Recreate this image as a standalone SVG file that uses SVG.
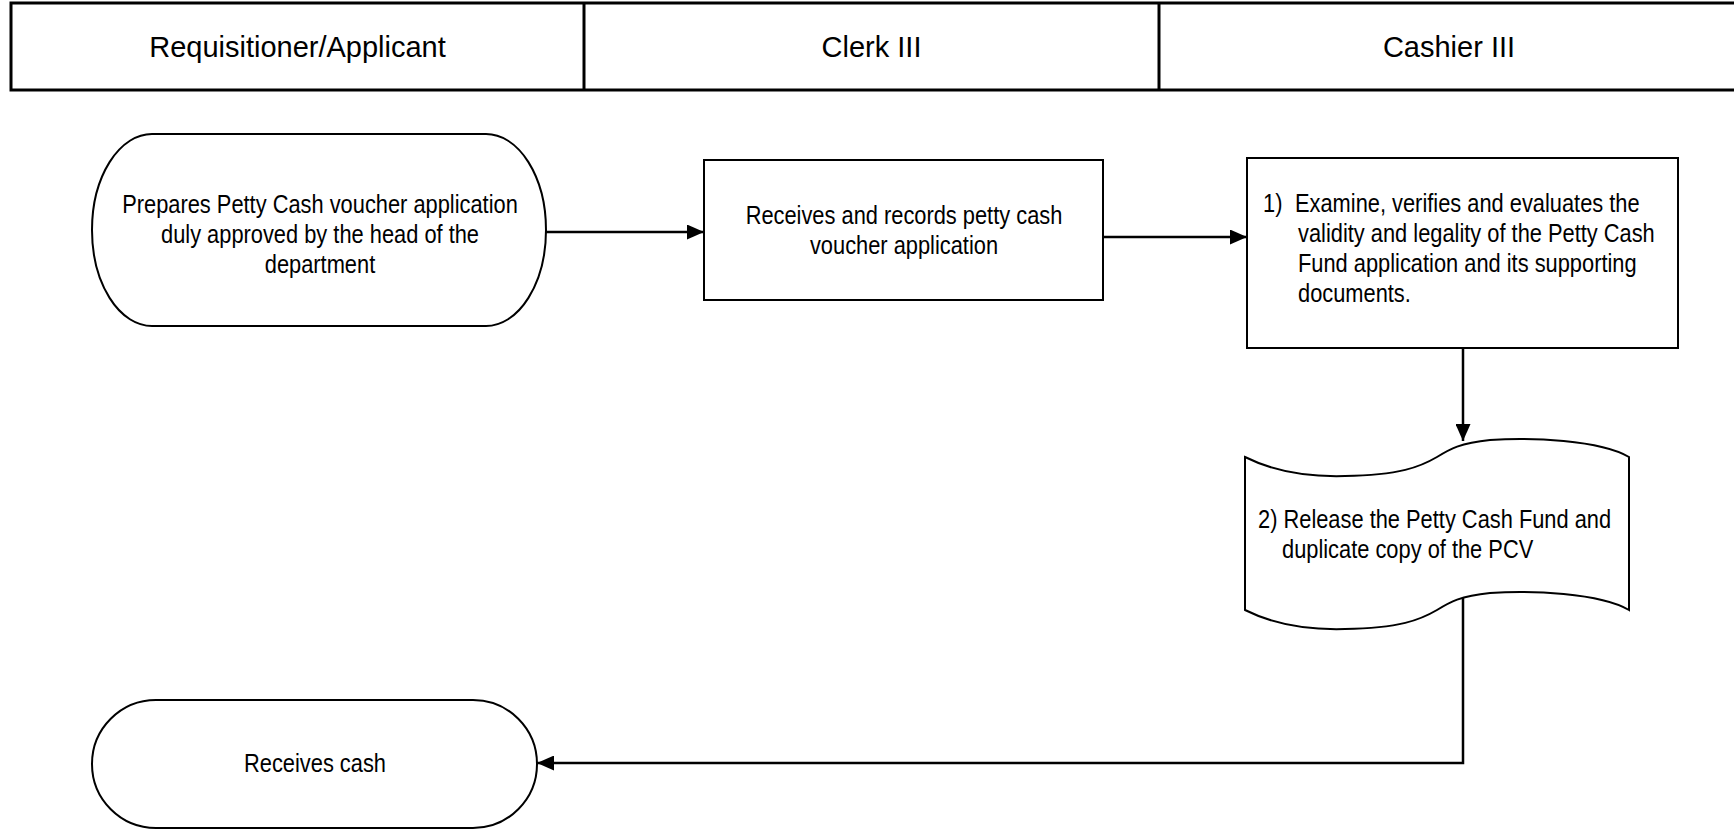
<svg xmlns="http://www.w3.org/2000/svg" width="1734" height="830" viewBox="0 0 1734 830">
  <style>
    .hdr { font-family: "Liberation Sans", Arial, sans-serif; font-size: 29px; fill: #000; text-anchor: middle; }
    .t { font-family: "Liberation Sans", Arial, sans-serif; font-size: 26px; fill: #000; }
    .c { text-anchor: middle; }
    .shape { fill: #fff; stroke: #000; stroke-width: 2; }
    .conn { fill: none; stroke: #000; stroke-width: 2.5; }
  </style>
  <defs>
    <marker id="arrow" viewBox="0 0 17 15" refX="17" refY="7.5" markerWidth="17" markerHeight="15" markerUnits="userSpaceOnUse" orient="auto">
      <path d="M0,0 L17,7.5 L0,15 Z" fill="#000"/>
    </marker>
  </defs>

  <g id="header">
    <rect x="11" y="3" width="1728" height="87" fill="#fff" stroke="#000" stroke-width="3"/>
    <line x1="584" y1="3" x2="584" y2="90" stroke="#000" stroke-width="3"/>
    <line x1="1159" y1="3" x2="1159" y2="90" stroke="#000" stroke-width="3"/>
    <text class="hdr" x="297.5" y="57">Requisitioner/Applicant</text>
    <text class="hdr" x="871.5" y="57">Clerk III</text>
    <text class="hdr" x="1449" y="57">Cashier III</text>
  </g>

  <g id="connectors">
    <line class="conn" x1="546" y1="232" x2="704" y2="232" marker-end="url(#arrow)"/>
    <line class="conn" x1="1103" y1="237" x2="1247" y2="237" marker-end="url(#arrow)"/>
    <line class="conn" x1="1463" y1="348" x2="1463" y2="441" marker-end="url(#arrow)"/>
    <polyline class="conn" points="1463,597 1463,763 537,763" marker-end="url(#arrow)"/>
  </g>

  <g id="node-prepare">
    <rect class="shape" x="92" y="134" width="454" height="192" rx="60" ry="96"/>
    <text class="t c" transform="translate(320,213) scale(0.84,1)">Prepares Petty Cash voucher application</text>
    <text class="t c" transform="translate(320,243) scale(0.84,1)">duly approved by the head of the</text>
    <text class="t c" transform="translate(320,273) scale(0.84,1)">department</text>
  </g>

  <g id="node-receive-record">
    <rect class="shape" x="704" y="160" width="399" height="140"/>
    <text class="t c" transform="translate(904,224) scale(0.84,1)">Receives and records petty cash</text>
    <text class="t c" transform="translate(904,254) scale(0.84,1)">voucher application</text>
  </g>

  <g id="node-examine">
    <rect class="shape" x="1247" y="158" width="431" height="190"/>
    <text class="t" transform="translate(1263,212) scale(0.84,1)">1)</text>
    <text class="t" transform="translate(1295,212) scale(0.84,1)">Examine, verifies and evaluates the</text>
    <text class="t" transform="translate(1298,242) scale(0.84,1)">validity and legality of the Petty Cash</text>
    <text class="t" transform="translate(1298,272) scale(0.84,1)">Fund application and its supporting</text>
    <text class="t" transform="translate(1298,302) scale(0.84,1)">documents.</text>
  </g>

  <g id="node-release">
    <path class="shape" d="M1245,457 C1275,472 1310,477 1345,476 C1400,475 1420,467 1437,457 C1450,449 1460,443 1490,440 C1530,437 1600,440 1629,457 L1629,610 C1600,593 1530,590 1490,593 C1460,596 1450,602 1437,610 C1420,620 1400,628 1345,629 C1310,630 1275,625 1245,610 Z"/>
    <text class="t" transform="translate(1258,528) scale(0.84,1)">2) Release the Petty Cash Fund and</text>
    <text class="t" transform="translate(1282,558) scale(0.84,1)">duplicate copy of the PCV</text>
  </g>

  <g id="node-receives-cash">
    <rect class="shape" x="92" y="700" width="445" height="128" rx="64" ry="64"/>
    <text class="t c" transform="translate(315,772) scale(0.84,1)">Receives cash</text>
  </g>
</svg>
